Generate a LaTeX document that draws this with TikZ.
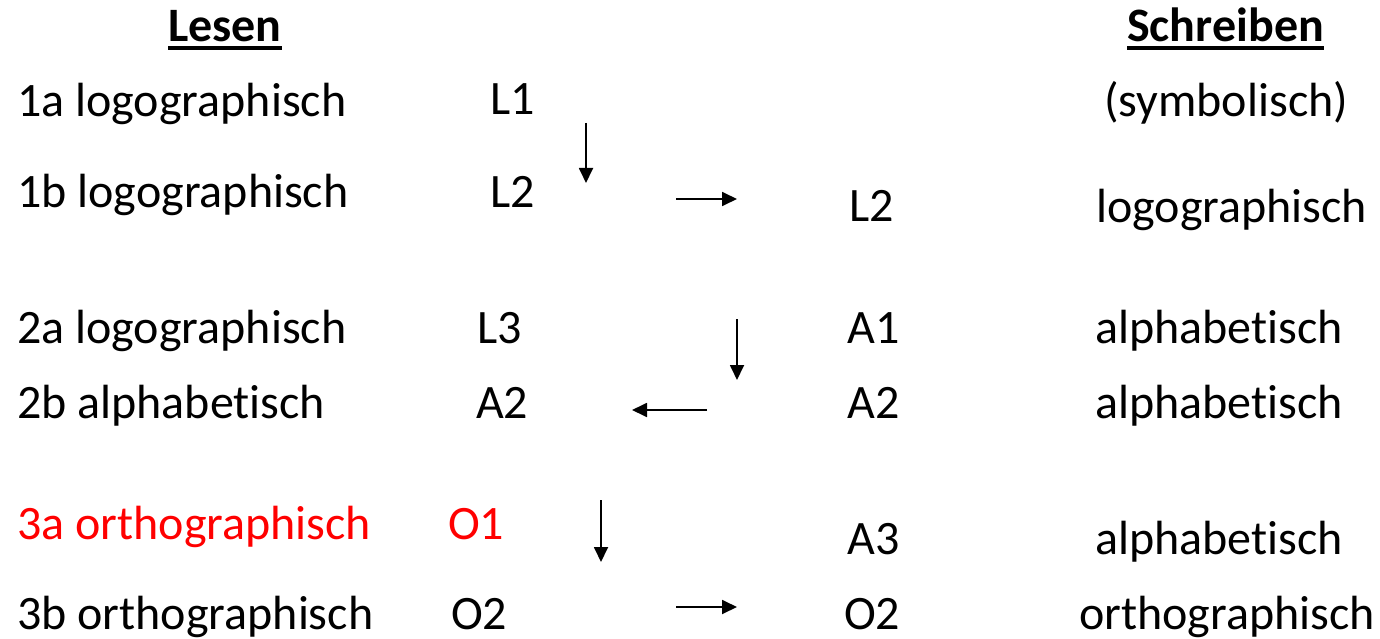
\documentclass[tikz,border=0pt]{standalone}
\usepackage{fontspec}
\setmainfont{Carlito}[Ligatures=NoCommon]
\usepackage{xcolor}
\usetikzlibrary{positioning}
\usetikzlibrary{arrows.meta}
\tikzset{stage/.style={inner sep=0pt, anchor=base west,
font=\fontsize{48}{57}\selectfont},
head/.style={stage, font=\fontsize{48}{57}\selectfont\bfseries},
uline/.style={line width=3.6pt},
arr/.style={line width=1.8pt, -{Triangle[length=15pt,width=14pt]}}}

\begin{document}
\begin{tikzpicture}[x=1pt, y=-1pt, redstage/.style={stage, text=red}]
				\useasboundingbox (0,0) rectangle (1380,639);

				% column heads
				\node[head](lesen) at (168,42) {Lesen};
				\node[head](schreiben) at (1127,42) {Schreiben};
				\draw[uline] ([yshift=-6pt]lesen.base west) -- ([yshift=-6pt]lesen.base east);
				\draw[uline] ([yshift=-6pt]schreiben.base west) -- ([yshift=-6pt]schreiben.base east);

				% Lesen
				\node[stage](l1a) at (17,117) {1a logographisch};
				\node[stage](l1b) at (17,207) {1b logographisch};
				\node[stage](l2a) at (17,343) {2a logographisch};
				\node[stage](l2b) at (17,418) {2b alphabetisch};
				\node[redstage](l3a) at (17,539) {3a orthographisch};
				\node[stage](l3b) at (17,629) {3b orthographisch};

				\node[stage](lL1) at (490,115) {L1};
				\node[stage](lL2) at (490,207) {L2};
				\node[stage](lL3) at (477,343) {L3};
				\node[stage](lA2) at (476,418) {A2};
				\node[redstage](lO1) at (448,539) {O1};
				\node[stage](lO2) at (451,629) {O2};

				% Schreiben
				\node[stage](sL2) at (849,221) {L2};
				\node[stage](sA1) at (847,343) {A1};
				\node[stage](sA2) at (847,418) {A2};
				\node[stage](sA3) at (847,554) {A3};
				\node[stage](sO2) at (844,629) {O2};

				\node[stage](s1a) at (1104,117) {(symbolisch)};
				\node[stage](s1b) at (1096,222) {logographisch};
				\node[stage](s2a) at (1095,343) {alphabetisch};
				\node[stage](s2b) at (1095,418) {alphabetisch};
				\node[stage](s3a) at (1095,554) {alphabetisch};
				\node[stage](s3b) at (1079,629) {orthographisch};

				% arrows
				\coordinate(d1) at (586,123); \coordinate(d1e) at (586,183);
				\coordinate(r1) at (676,199); \coordinate(r1e) at (737,199);
				\coordinate(d2) at (737,319); \coordinate(d2e) at (737,380);
				\coordinate(w2) at (707,410); \coordinate(w2e) at (632,410);
				\coordinate(d3) at (601,500); \coordinate(d3e) at (601,562);
				\coordinate(r3) at (676,607); \coordinate(r3e) at (737,607);
				\draw[arr] (d1) -- (d1e);
				\draw[arr] (r1) -- (r1e);
				\draw[arr] (d2) -- (d2e);
				\draw[arr] (w2) -- (w2e);
				\draw[arr] (d3) -- (d3e);
				\draw[arr] (r3) -- (r3e);
			\end{tikzpicture}
\end{document}
